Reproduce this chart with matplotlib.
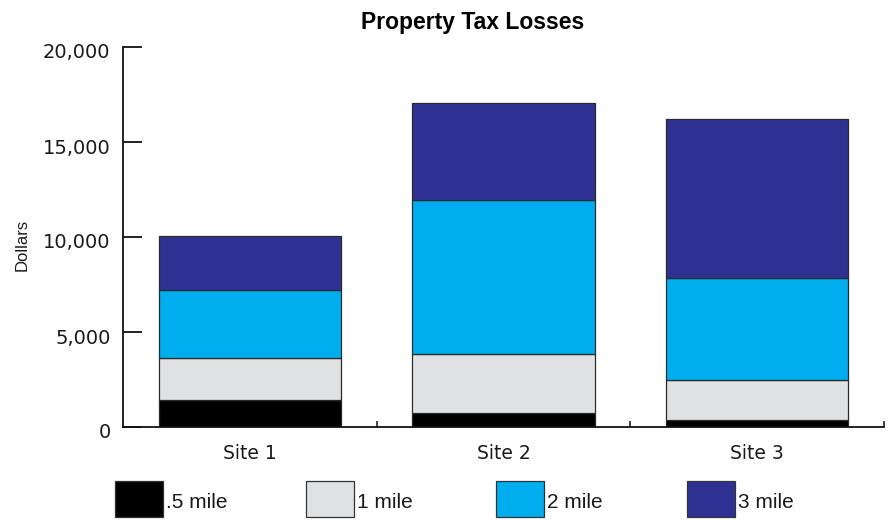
import matplotlib
matplotlib.use("Agg")
import matplotlib.pyplot as plt
from matplotlib.patches import Rectangle
import matplotlib.transforms as mtransforms
import numpy as np

# Data
sites = ["Site 1", "Site 2", "Site 3"]
series_names = [".5 mile", "1 mile", "2 mile", "3 mile"]
half_mile = [1400, 740, 350]
one_mile = [2250, 3120, 2140]
two_mile = [3580, 8110, 5340]
three_mile = [2800, 5080, 8360]
y_ticks = [0, 5000, 10000, 15000, 20000]
y_tick_labels = ["0", "5,000", "10,000", "15,000", "20,000"]

colors = ["#000000", "#e0e1e3", "#00aeef", "#2e3192"]
series = [half_mile, one_mile, two_mile, three_mile]

W, H = 893, 520
fig = plt.figure(figsize=(W / 100, H / 100), dpi=100)
ax = fig.add_axes([123 / W, 1 - 427 / H, (884 - 123) / W, (427 - 47) / H])

x = np.arange(len(sites))
bottom = np.zeros(len(sites))
for vals, col in zip(series, colors):
    ax.bar(x, vals, width=0.72, bottom=bottom, color=col,
           edgecolor="#2a2a2a", linewidth=0.9, zorder=2)
    bottom += np.array(vals)

ax.set_xlim(-0.5, len(sites) - 0.5)
ax.set_ylim(0, 20000)

for s in ["top", "right"]:
    ax.spines[s].set_visible(False)
for s in ["left", "bottom"]:
    ax.spines[s].set_linewidth(1.3)
    ax.spines[s].set_color("#111111")

ax.set_yticks(y_ticks)
ax.set_yticklabels(y_tick_labels, fontsize=14, family="DejaVu Sans", color="#1a1a1a")
ax.tick_params(axis="y", direction="in", length=13.5, width=1.3, pad=9, color="#111111")
# labels sit slightly below their ticks
shift = mtransforms.ScaledTranslation(0, -4 / 100, fig.dpi_scale_trans)
for lbl in ax.get_yticklabels():
    lbl.set_transform(lbl.get_transform() + shift)

ax.set_xticks(x)
ax.set_xticklabels(sites, fontsize=13.5, family="DejaVu Sans", color="#1a1a1a")
ax.tick_params(axis="x", which="major", length=0, pad=12)
ax.set_xticks(x + 0.5, minor=True)
ax.tick_params(axis="x", which="minor", direction="in", length=4.5, width=1.1, color="#111111")

fig.text(22 / W, 1 - 245 / H, "Dollars", rotation=90, ha="center", va="center",
         fontsize=12, family="Liberation Sans", color="#1a1a1a")

fig.text(473 / W, 1 - 22 / H, "Property Tax Losses", ha="center", va="center",
         fontsize=16.5, fontweight="bold", family="Liberation Sans", color="#000000")

# Legend row beneath the axis
lax = fig.add_axes([0, 0, 1, 1], zorder=-1)
lax.set_xlim(0, W)
lax.set_ylim(H, 0)
lax.axis("off")
x0, step = 115, 190.7
for i, (name, col) in enumerate(zip(series_names, colors)):
    lx = x0 + i * step
    lax.add_patch(Rectangle((lx, 481), 48, 36, facecolor=col,
                            edgecolor="#333333", linewidth=0.9))
    lax.text(lx + 51, 503, name, ha="left", va="center", fontsize=15,
             family="Liberation Sans", color="#1a1a1a")

fig.savefig("out.png", dpi=100, facecolor="white")
